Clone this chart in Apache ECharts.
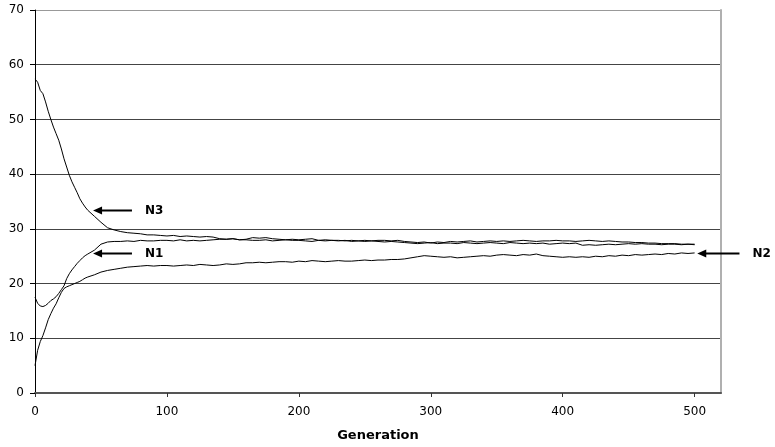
<!DOCTYPE html>
<html>
<head>
<meta charset="utf-8">
<script src="https://cdn.jsdelivr.net/npm/echarts@6/dist/echarts.min.js"></script>
<style>html,body{margin:0;padding:0;background:#fff}#c{width:775px;height:447px}</style>
</head>
<body>
<div id="c"></div>
<script>
// ---- data ----
const generation = [0,2,4,6,8,10,12,14,16,18,20,22,24,26,28,30,32,34,36,38,40,
45,50,55,60,65,70,75,80,85,90,95,100,105,110,115,120,125,130,135,140,145,150,155,160,165,170,175,180,185,190,195,
200,205,210,215,220,225,230,235,240,245,250,255,260,265,270,275,280,285,290,295,
300,305,310,315,320,325,330,335,340,345,350,355,360,365,370,375,380,385,390,395,
400,405,410,415,420,425,430,435,440,445,450,455,460,465,470,475,480,485,490,495,500];

const N3 = [57.4,56.8,55.3,54.7,53.2,51.5,50.0,48.6,47.4,46.2,44.6,42.8,41.3,39.8,38.6,37.6,36.6,35.5,34.7,34.0,33.4,
32.3,31.2,30.2,29.8,29.5,29.3,29.2,29.1,28.9,28.9,28.8,28.7,28.8,28.6,28.7,28.6,28.5,28.6,28.5,28.2,28.1,28.2,28.0,28.1,28.4,28.3,28.4,28.2,28.1,28.0,28.1,
28.0,28.1,28.2,27.9,28.0,27.9,27.9,27.8,27.9,27.8,27.9,27.8,27.9,27.9,27.8,27.9,27.7,27.6,27.5,27.6,
27.4,27.6,27.5,27.7,27.6,27.7,27.8,27.6,27.7,27.8,27.7,27.8,27.7,27.8,27.9,27.8,27.7,27.8,27.8,27.9,
27.8,27.8,27.7,27.8,27.9,27.8,27.7,27.8,27.7,27.6,27.6,27.5,27.5,27.4,27.4,27.3,27.3,27.3,27.2,27.2,27.2];

const N1 = [17.5,16.4,15.9,15.8,16.0,16.4,16.9,17.2,17.6,18.2,18.9,19.6,20.9,21.8,22.5,23.1,23.7,24.2,24.7,25.1,25.4,
26.1,27.2,27.6,27.7,27.7,27.8,27.7,27.9,27.8,27.8,27.9,27.9,27.8,28.0,27.8,27.9,27.8,27.9,28.0,28.1,28.1,28.2,28.0,28.0,27.9,27.9,28.0,27.8,27.9,28.0,27.9,
27.9,27.8,27.7,27.9,27.8,27.9,27.8,27.9,27.7,27.8,27.7,27.8,27.7,27.6,27.7,27.6,27.5,27.4,27.3,27.4,
27.5,27.3,27.4,27.4,27.3,27.5,27.4,27.3,27.4,27.5,27.4,27.3,27.5,27.4,27.3,27.4,27.3,27.4,27.2,27.3,
27.4,27.3,27.4,27.0,27.1,27.0,27.1,27.2,27.1,27.2,27.3,27.2,27.3,27.2,27.2,27.1,27.2,27.2,27.1,27.2,27.1];

const N2 = [5.0,7.8,9.4,10.5,11.9,13.4,14.5,15.5,16.3,17.4,18.4,19.1,19.4,19.6,19.8,20.0,20.2,20.4,20.7,21.0,21.2,
21.6,22.1,22.4,22.6,22.8,23.0,23.1,23.2,23.3,23.2,23.3,23.3,23.2,23.3,23.4,23.3,23.5,23.4,23.3,23.4,23.6,23.5,23.6,23.8,23.8,23.9,23.8,23.9,24.0,24.0,23.9,
24.1,24.0,24.2,24.1,24.0,24.1,24.2,24.1,24.1,24.2,24.3,24.2,24.3,24.3,24.4,24.4,24.5,24.7,24.9,25.1,
25.0,24.9,24.8,24.9,24.7,24.8,24.9,25.0,25.1,25.0,25.2,25.3,25.2,25.1,25.3,25.2,25.4,25.1,25.0,24.9,
24.8,24.9,24.8,24.9,24.8,25.0,24.9,25.1,25.0,25.2,25.1,25.3,25.2,25.3,25.4,25.3,25.5,25.4,25.6,25.5,25.6];

const xTicks = [0,100,200,300,400,500];
const yTicks = [0,10,20,30,40,50,60,70];

// annotations: label, arrow tip (generation, value), arrow tail generation
const annoLabels = ['N3','N1','N2'];
const annoTipX = [44, 44, 502];
const annoTailX = [73.5, 73.5, 534];
const annoY = [33.4, 25.6, 25.6];

// ---- chart ----
const FONT = '"DejaVu Sans", Verdana, sans-serif';
const chart = echarts.init(document.getElementById('c'), null, {renderer:'canvas'});
function pairs(ys){ return generation.map((g,i)=>[g, ys[i]]); }
function lineSeries(name, ys){
  return {name, type:'line', data:pairs(ys), showSymbol:false, symbol:'none',
    lineStyle:{color:'#000', width:1}, animation:false, z:5};
}
chart.setOption({
  animation:false,
  backgroundColor:'#fff',
  grid:{left:35, right:54, top:10, bottom:52.5, containLabel:false},
  xAxis:{type:'value', min:0, max:520, interval:100,
    name:'Generation', nameLocation:'middle', nameGap:36,
    nameTextStyle:{fontFamily:FONT, fontSize:13, fontWeight:'bold', color:'#000'},
    axisLine:{show:true, onZero:false, lineStyle:{color:'#555', width:2}},
    axisTick:{show:true, length:4, lineStyle:{color:'#333'}, customValues:xTicks},
    axisLabel:{fontFamily:FONT, fontSize:12, color:'#000', margin:13, customValues:xTicks},
    splitLine:{show:false}},
  yAxis:[{type:'value', min:0, max:70, interval:10,
    axisLine:{show:true, lineStyle:{color:'#000', width:1}},
    axisTick:{show:true, length:5, lineStyle:{color:'#000'}},
    axisLabel:{fontFamily:FONT, fontSize:12, color:'#000', margin:11, customValues:yTicks},
    splitLine:{show:true, lineStyle:{color:['#444','#444','#444','#444','#444','#444','#444','#999'], width:1}}},
   {type:'value', min:0, max:70, position:'right',
    axisLine:{show:true, lineStyle:{color:'#b0b0b0', width:2}},
    axisTick:{show:false}, axisLabel:{show:false}, splitLine:{show:false}}],
  series:[lineSeries('N3', N3), lineSeries('N1', N1), lineSeries('N2', N2)]
});

// annotation arrows placed through the axes' scales
const g = [];
annoLabels.forEach((lab,i)=>{
  const tip = chart.convertToPixel({gridIndex:0}, [annoTipX[i], annoY[i]]);
  const tail = chart.convertToPixel({gridIndex:0}, [annoTailX[i], annoY[i]]);
  const y = Math.round(tip[1]) + 0.5;
  g.push({type:'line', shape:{x1:tip[0]+7, y1:y, x2:tail[0], y2:y}, style:{stroke:'#000', lineWidth:2}, z:10});
  g.push({type:'polygon', shape:{points:[[tip[0], y],[tip[0]+9, y-4],[tip[0]+9, y+4]]}, style:{fill:'#000'}, z:10});
  g.push({type:'text', x:tail[0]+13, y:y, style:{text:lab, font:'bold 12px '+FONT, fill:'#000', textVerticalAlign:'middle', verticalAlign:'middle'}, z:10});
});
chart.setOption({graphic:g});
</script>
</body>
</html>
